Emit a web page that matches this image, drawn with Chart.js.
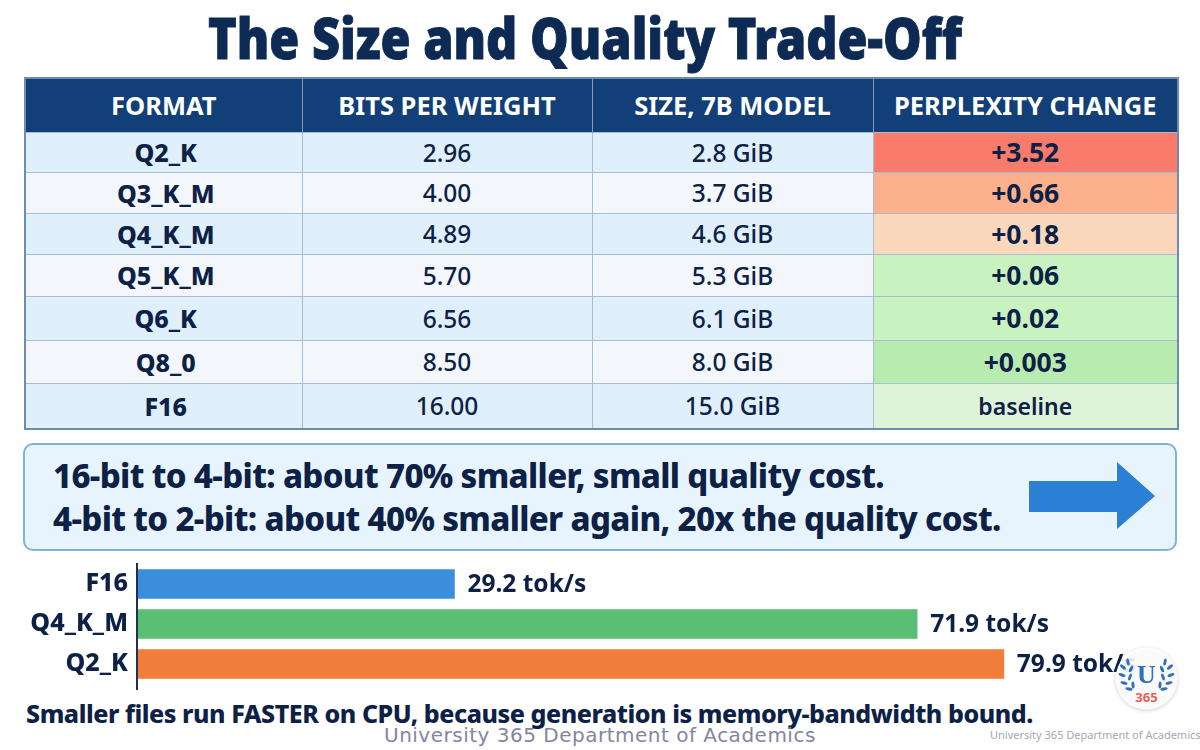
<!DOCTYPE html>
<html>
<head>
<meta charset="utf-8">
<title>The Size and Quality Trade-Off</title>
<script src="https://cdn.jsdelivr.net/npm/chart.js@4"></script>
<style>
    html, body { margin: 0; padding: 0; background: #fff; }
    body { width: 1200px; height: 750px; position: relative; overflow: hidden; font-family: 'Noto Sans', sans-serif; color: #0c2145; }
    h1 { position: absolute; left: 0; top: -2px; width: 1170px; margin: 0; text-align: center; font-size: 57px; line-height: 78px; font-weight: 900; color: #0d2a54; -webkit-text-stroke: 1px #0d2a54; white-space: nowrap; transform: scaleX(0.853); }
    table { position: absolute; left: 24px; top: 77px; width: 1153px; height: 351px; border-collapse: collapse; table-layout: fixed; border: 2px solid #6d8db0; }
    th { background: #123f77; color: #fff; font-size: 25.5px; font-weight: 700; border-right: 1px solid #7f9cbd; padding: 0; }
    td { text-align: center; font-size: 24.5px; font-weight: 500; border: 1px solid #a9bdd2; padding: 0; }
    td.fmt { font-size: 25px; font-weight: 800; padding-left: 4px; }
    td.perp { font-size: 26.5px; font-weight: 700; }
    td.base { font-size: 23px; font-weight: 600; }
    .note { position: absolute; left: 23px; top: 443px; width: 1150px; height: 104px; background: #e8f4fd; border: 2px solid #7fb2e0; border-radius: 10px; }
    .note p { position: absolute; left: 28px; margin: 0; font-size: 33px; line-height: 44px; font-weight: 800; letter-spacing: -0.65px; white-space: nowrap; color: #0c2145; }
    .arrow { position: absolute; left: 1029px; top: 462px; }
    #speedWrap { position: absolute; left: 0; top: 560px; width: 1200px; height: 135px; }
    .foot { position: absolute; left: 26px; top: 695px; font-size: 25px; line-height: 36px; font-weight: 800; letter-spacing: -0.45px; white-space: nowrap; color: #0c2145; }
    .mark { position: absolute; left: 384px; top: 722px; font-family: 'DejaVu Sans', sans-serif; font-size: 20px; line-height: 26px; letter-spacing: 0.5px; color: #85859f; white-space: nowrap; }
    .mark2 { position: absolute; left: 990px; top: 726px; font-size: 11px; line-height: 18px; color: #a3a8b8; white-space: nowrap; }
    .logo { position: absolute; left: 1113px; top: 646px; filter: drop-shadow(0 1px 2px rgba(0,0,0,0.2)); }
</style>
</head>
<body>
<h1>The Size and Quality Trade-Off</h1>
<table id="formats"></table>
<div class="note" id="note"></div>
<svg class="arrow" width="128" height="68"><polygon points="0,19 88,19 88,0 126,34 88,67 88,50 0,50" fill="#2b7fd4"/></svg>
<div id="speedWrap"><canvas id="speedChart"></canvas></div>
<div class="foot" id="foot"></div>
<div class="mark">University 365 Department of Academics</div>
<div class="mark2">University 365 Department of Academics</div>
<svg class="logo" width="68" height="68" viewBox="0 0 68 68">
    <circle cx="33.5" cy="32.5" r="31" fill="#fff" fill-opacity="0.88"/>
    <g fill="#2f6fbc">
        <ellipse cx="15" cy="16" rx="1.5" ry="3.6" transform="rotate(-10 15 16)"/>
        <ellipse cx="10" cy="21" rx="1.5" ry="3.6" transform="rotate(-50 10 21)"/>
        <ellipse cx="18" cy="23" rx="1.5" ry="3.6" transform="rotate(25 18 23)"/>
        <ellipse cx="9" cy="29" rx="1.5" ry="3.6" transform="rotate(-70 9 29)"/>
        <ellipse cx="17" cy="31" rx="1.5" ry="3.6" transform="rotate(20 17 31)"/>
        <ellipse cx="11" cy="37" rx="1.5" ry="3.6" transform="rotate(-75 11 37)"/>
        <ellipse cx="20" cy="39" rx="1.5" ry="3.6" transform="rotate(-5 20 39)"/>
        <ellipse cx="16" cy="43" rx="1.5" ry="3.6" transform="rotate(-80 16 43)"/>
        <ellipse cx="52" cy="16" rx="1.5" ry="3.6" transform="rotate(10 52 16)"/>
        <ellipse cx="57" cy="21" rx="1.5" ry="3.6" transform="rotate(50 57 21)"/>
        <ellipse cx="49" cy="23" rx="1.5" ry="3.6" transform="rotate(-25 49 23)"/>
        <ellipse cx="58" cy="29" rx="1.5" ry="3.6" transform="rotate(70 58 29)"/>
        <ellipse cx="50" cy="31" rx="1.5" ry="3.6" transform="rotate(-20 50 31)"/>
        <ellipse cx="56" cy="37" rx="1.5" ry="3.6" transform="rotate(75 56 37)"/>
        <ellipse cx="47" cy="39" rx="1.5" ry="3.6" transform="rotate(5 47 39)"/>
        <ellipse cx="51" cy="43" rx="1.5" ry="3.6" transform="rotate(80 51 43)"/>
    </g>
    <text x="33.5" y="37" text-anchor="middle" font-family="'Liberation Serif', serif" font-weight="700" font-size="26" fill="#2f6fbc">U</text>
    <text x="33.5" y="56" text-anchor="middle" font-family="'Noto Sans', sans-serif" font-weight="700" font-size="13" fill="#ee5a50">365</text>
</svg>
<script>
// Table columns
const columns = ['FORMAT', 'BITS PER WEIGHT', 'SIZE, 7B MODEL', 'PERPLEXITY CHANGE'];
const formats = ['Q2_K', 'Q3_K_M', 'Q4_K_M', 'Q5_K_M', 'Q6_K', 'Q8_0', 'F16'];
const bitsPerWeight = ['2.96', '4.00', '4.89', '5.70', '6.56', '8.50', '16.00'];
const modelSizes = ['2.8 GiB', '3.7 GiB', '4.6 GiB', '5.3 GiB', '6.1 GiB', '8.0 GiB', '15.0 GiB'];
const perplexity = ['+3.52', '+0.66', '+0.18', '+0.06', '+0.02', '+0.003', 'baseline'];
const perplexityColors = ['#f97b6b', '#fdb08c', '#fbd7bb', '#c8f2bf', '#c8f2bf', '#b8ebb0', '#dff3d8'];
const rowColors = ['#e0effc', '#f3f7fc'];
const columnWidths = [277, 290, 281, 305];
const rowHeights = [40, 41, 41, 42, 44, 43, 46];

// Callout and footer text
const noteLines = [
    '16-bit to 4-bit: about 70% smaller, small quality cost.',
    '4-bit to 2-bit: about 40% smaller again, 20x the quality cost.'
];
const footerText = 'Smaller files run FASTER on CPU, because generation is memory-bandwidth bound.';

// Speed chart
const speedLabels = ['F16', 'Q4_K_M', 'Q2_K'];
const speedValues = [29.2, 71.9, 79.9];
const speedColors = ['#3b8edb', '#5abf72', '#f07d3a'];
const speedUnit = 'tok/s';

function buildTable() {
    const table = document.getElementById('formats');
    let html = '<colgroup>' + columnWidths.map(w => `<col style="width:${w}px">`).join('') + '</colgroup>';
    html += '<tr style="height:54px">' + columns.map(c => `<th>${c}</th>`).join('') + '</tr>';
    formats.forEach((name, i) => {
        const bg = rowColors[i % 2 === 0 ? 0 : 1];
        const isBase = perplexity[i] === 'baseline';
        html += `<tr style="height:${rowHeights[i]}px;background:${bg}">`
            + `<td class="fmt">${name}</td><td>${bitsPerWeight[i]}</td><td>${modelSizes[i]}</td>`
            + `<td class="${isBase ? 'base' : 'perp'}" style="background:${perplexityColors[i]}">${perplexity[i]}</td></tr>`;
    });
    table.innerHTML = html;
}

function buildText() {
    const note = document.getElementById('note');
    noteLines.forEach((line, i) => {
        const p = document.createElement('p');
        p.textContent = line;
        p.style.top = (9 + i * 43) + 'px';
        note.appendChild(p);
    });
    document.getElementById('foot').textContent = footerText;
}

// Value labels at the bar ends, plus the axis line running past the last bar
const barExtras = {
    id: 'barExtras',
    afterDatasetsDraw(chart) {
        const { ctx, chartArea } = chart;
        ctx.save();
        ctx.strokeStyle = '#22304f';
        ctx.lineWidth = 2;
        ctx.beginPath();
        ctx.moveTo(chartArea.left - 1, chartArea.top - 1);
        ctx.lineTo(chartArea.left - 1, chartArea.bottom + 6);
        ctx.stroke();

        ctx.fillStyle = '#0c2145';
        ctx.font = "700 24.5px 'Noto Sans'";
        ctx.textAlign = 'left';
        ctx.textBaseline = 'middle';
        chart.getDatasetMeta(0).data.forEach((bar, i) => {
            ctx.fillText(`${speedValues[i]} ${speedUnit}`, bar.x + 13, bar.y + 1);
        });
        ctx.restore();
    }
};

function buildChart() {
    new Chart(document.getElementById('speedChart'), {
        type: 'bar',
        data: {
            labels: speedLabels,
            datasets: [{
                data: speedValues,
                backgroundColor: speedColors,
                barThickness: 29,
                borderWidth: 0
            }]
        },
        options: {
            indexAxis: 'y',
            responsive: true,
            maintainAspectRatio: false,
            animation: false,
            layout: { padding: { top: 4, bottom: 11, left: 0, right: 0 } },
            plugins: {
                legend: { display: false },
                tooltip: { enabled: false }
            },
            scales: {
                x: { display: false, min: 0, max: 98 },
                y: {
                    afterFit: (scale) => {
                        scale.width = 138;
                        scale.paddingTop = 0;
                        scale.paddingBottom = 0;
                    },
                    grid: { display: false, drawTicks: false },
                    border: { display: false },
                    ticks: {
                        color: '#0c2145',
                        padding: 10,
                        font: { family: 'Noto Sans', size: 25, weight: '800' }
                    }
                }
            }
        },
        plugins: [barExtras]
    });
}

buildTable();
buildText();
buildChart();
</script>
</body>
</html>
